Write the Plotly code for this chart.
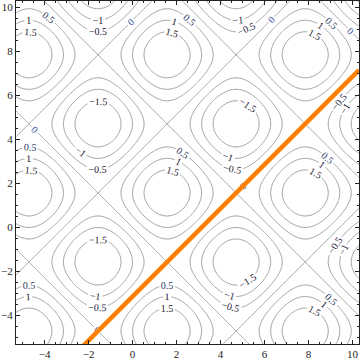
import numpy as np
import plotly.graph_objects as go

# Contour plot of f(x, y) = sin(x) + sin(y)
x_range = [-5.3, 10.3]
y_range = [-5.3, 10.3]
levels = [-1.5, -1.0, -0.5, 0.0, 0.5, 1.0, 1.5]
label_colors = ["#22122e", "#22122e", "#221638", "#2f4f9a", "#28365e", "#22122e", "#221a28"]
x_ticks = [-4, -2, 0, 2, 4, 6, 8, 10]
y_ticks = [-4, -2, 0, 2, 4, 6, 8, 10]
line_offset = -np.pi  # highlighted zero contour: y = x - pi

xs = np.linspace(x_range[0], x_range[1], 400)
ys = np.linspace(y_range[0], y_range[1], 400)
X, Y = np.meshgrid(xs, ys)
Z = np.sin(X) + np.sin(Y)

fig = go.Figure()
for lvl, col in zip(levels, label_colors):
    fig.add_trace(go.Contour(
        x=xs, y=ys, z=Z,
        autocontour=False,
        contours=dict(start=lvl, end=lvl, size=1, coloring="none",
                      showlabels=True,
                      labelfont=dict(size=10, color=col, family="Liberation Serif")),
        line=dict(color="#9c9c9c", width=1),
        showscale=False, hoverinfo="skip",
    ))

lx = np.array(x_range)
fig.add_trace(go.Scatter(x=lx, y=lx + line_offset, mode="lines",
                         line=dict(color="#ff8000", width=4.5),
                         showlegend=False, hoverinfo="skip"))

axis_common = dict(
    automargin=False,
    showgrid=False, zeroline=False, showline=True, linecolor="#222222", linewidth=1,
    mirror="allticks", ticks="inside", ticklen=4, tickwidth=1, tickcolor="#222222",
    tickfont=dict(family="Liberation Serif", size=11, color="#222222"),
    minor=dict(ticks="inside", ticklen=2, dtick=0.5, tickcolor="#222222", showgrid=False),
)
fig.update_xaxes(range=x_range, tickvals=x_ticks, **axis_common)
fig.update_yaxes(range=y_range, tickvals=y_ticks, **axis_common)

fig.update_layout(
    width=361, height=360,
    margin=dict(l=16, r=2, t=1, b=16),
    paper_bgcolor="white", plot_bgcolor="white",
    showlegend=False,
)
fig.write_html("out.html", config={"displayModeBar": False},
               post_script="document.body.style.margin='0';document.body.style.overflow='hidden';")
